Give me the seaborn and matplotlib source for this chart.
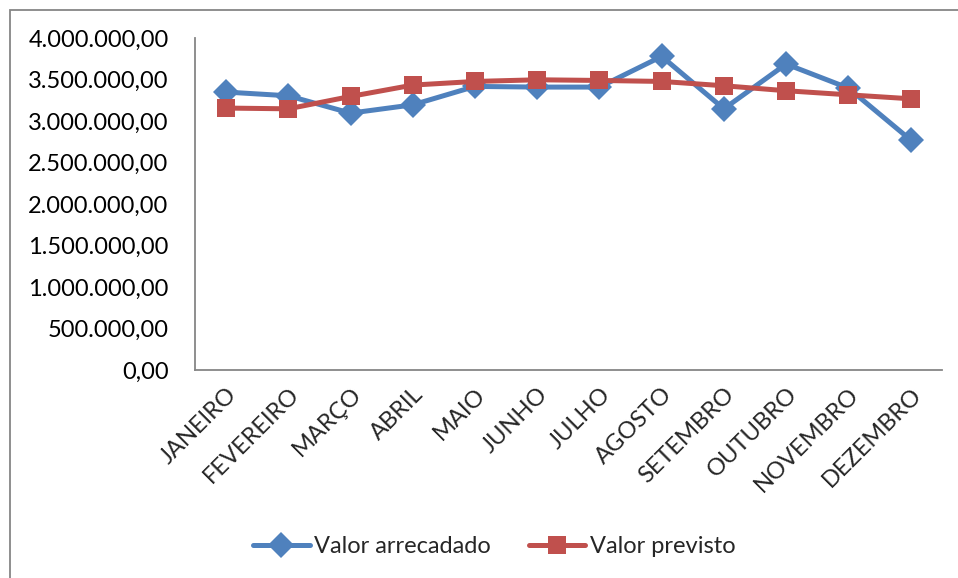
import pandas as pd
import seaborn as sns
import matplotlib.pyplot as plt
from matplotlib.patches import Rectangle
from matplotlib.ticker import FuncFormatter, MultipleLocator

meses = ["JANEIRO", "FEVEREIRO", "MARÇO", "ABRIL", "MAIO", "JUNHO",
         "JULHO", "AGOSTO", "SETEMBRO", "OUTUBRO", "NOVEMBRO", "DEZEMBRO"]
valor_arrecadado = [3350000, 3305000, 3096000, 3196000, 3418000, 3410000,
                    3410000, 3780000, 3148000, 3688000, 3398000, 2773000]
valor_previsto = [3157000, 3148000, 3297000, 3434000, 3478000, 3498000,
                  3490000, 3478000, 3426000, 3366000, 3317000, 3269000]

df = pd.DataFrame({
    "mes": meses * 2,
    "valor": valor_arrecadado + valor_previsto,
    "serie": ["Valor arrecadado"] * 12 + ["Valor previsto"] * 12,
})

sns.set_style("white")
plt.rcParams["font.family"] = ["Lato", "DejaVu Sans"]

fig = plt.figure(figsize=(9.58, 5.78), dpi=100)
ax = fig.add_axes([0.2035, 0.36, 0.7795, 0.574])

sns.lineplot(data=df, x="mes", y="valor", hue="serie", style="serie",
             palette={"Valor arrecadado": "#4F81BD", "Valor previsto": "#C0504D"},
             markers={"Valor arrecadado": "D", "Valor previsto": "s"},
             dashes=False, linewidth=3.6, markersize=13, markeredgewidth=0,
             ax=ax, legend=False)

ax.set_xlim(-0.5, 11.5)
ax.set_ylim(0, 4000000)
ax.yaxis.set_major_locator(MultipleLocator(500000))


def fmt_br(v, pos):
    s = f"{v:,.2f}"
    return s.replace(",", "X").replace(".", ",").replace("X", ".")


ax.yaxis.set_major_formatter(FuncFormatter(fmt_br))
ax.set_xlabel("")
ax.set_ylabel("")
ax.tick_params(axis="y", labelsize=17, length=0, pad=19, colors="black")
ax.tick_params(axis="x", labelsize=17, length=0, pad=10)
plt.setp(ax.get_xticklabels(), rotation=45, ha="right", rotation_mode="anchor")

for side in ["top", "right"]:
    ax.spines[side].set_visible(False)
for side in ["left", "bottom"]:
    ax.spines[side].set_color("#868686")
    ax.spines[side].set_linewidth(1.3)

# legend at the bottom
handles = [
    plt.Line2D([], [], color="#4F81BD", lw=3.6, marker="D", markersize=13, markeredgewidth=0),
    plt.Line2D([], [], color="#C0504D", lw=3.6, marker="s", markersize=13, markeredgewidth=0),
]
fig.legend(handles, ["Valor arrecadado", "Valor previsto"], loc="center",
           bbox_to_anchor=(0.516, 0.054), ncol=2, frameon=False, fontsize=17,
           handlelength=2.4, handletextpad=0.2, columnspacing=1.6)

# outer chart border
fig.patches.append(Rectangle((0.0104, -0.1), 1.1, 1.083, transform=fig.transFigure,
                             fill=False, edgecolor="#868686", linewidth=1.3))

plt.savefig("out.png", dpi=100)
